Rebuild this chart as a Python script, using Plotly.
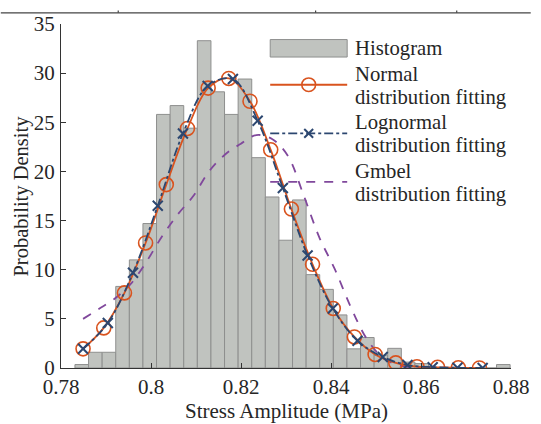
import plotly.graph_objects as go

# ---------------- data ----------------
hist_first_edge = 0.7831
hist_bin_width = 0.003022
hist_heights = [0.35, 1.6, 1.6, 8.3, 11.0, 14.7, 25.8, 26.7, 24.4, 33.3,
                28.1, 25.8, 29.4, 21.4, 17.4, 13.0, 17.1, 9.5, 8.0, 5.4,
                1.95, 3.1, 1.3, 2.0, 0.6, 0.45, 0.0, 0.0, 0.0, 0.0, 0.0, 0.35]

normal_x = [0.7849, 0.7895, 0.7941, 0.7988, 0.8034, 0.8081, 0.8127, 0.8173,
            0.8220, 0.8266, 0.8312, 0.8359, 0.8405, 0.8452, 0.8498, 0.8544,
            0.8591, 0.8637, 0.8683, 0.8730]
normal_y = [1.95, 4.08, 7.64, 12.72, 18.66, 24.37, 28.48, 29.46,
            27.14, 22.2, 16.17, 10.55, 6.06, 3.16, 1.38, 0.52,
            0.13, 0.07, 0.02, 0.005]

lognormal_x = [0.7849, 0.7904, 0.7960, 0.8015, 0.8071, 0.8126, 0.8182, 0.8237,
               0.8293, 0.8348, 0.8404, 0.8459, 0.8515, 0.8570, 0.8626, 0.8681,
               0.8737]
lognormal_y = [1.95, 4.58, 9.69, 16.51, 23.86, 28.69, 29.4, 25.16,
               18.32, 11.45, 6.06, 2.77, 1.12, 0.3, 0.08, 0.02, 0.005]

gumbel_x = [0.7849, 0.7884, 0.7919, 0.7954, 0.7989, 0.8024, 0.8059, 0.8094,
            0.8129, 0.8164, 0.8199, 0.8234, 0.8269, 0.8304, 0.8339, 0.8374,
            0.8409, 0.8444, 0.8479, 0.8514, 0.8549, 0.8584, 0.8619, 0.8654,
            0.8689, 0.8737]
gumbel_y = [5.0, 6.0, 7.05, 8.5, 10.75, 13.35, 15.6, 17.5,
            20.0, 21.7, 22.8, 23.7, 23.3, 21.6, 17.6, 13.3,
            10.0, 6.2, 3.0, 1.1, 0.3, 0.06, 0.01, 0.0,
            0.0, 0.0]

x_tick_vals = [0.78, 0.80, 0.82, 0.84, 0.86, 0.88]
x_tick_text = ["0.78", "0.8", "0.82", "0.84", "0.86", "0.88"]
y_tick_vals = [0, 5, 10, 15, 20, 25, 30, 35]

legend_labels = [["Histogram"],
                 ["Normal", "distribution fitting"],
                 ["Lognormal", "distribution fitting"],
                 ["Gmbel", "distribution fitting"]]
x_title = "Stress Amplitude (MPa)"
y_title = "Probability Density"

# ---------------- style ----------------
FONT = "Liberation Serif, Times New Roman, serif"
BAR_FILL = "#c0c3bf"
BAR_EDGE = "#8e8f8e"
C_NORMAL = "#d9531e"
C_LOGN = "#2c4770"
C_GUMB = "#80489c"
TXT = "#262626"

W, H = 541, 424
ML, MR, MT, MB = 61, 24, 14, 56
PW, PH = W - ML - MR, H - MT - MB


def px(xp):
    return (xp - ML) / PW


def py(yp):
    return (H - MB - yp) / PH


centers = [hist_first_edge + (i + 0.5) * hist_bin_width for i in range(len(hist_heights))]

fig = go.Figure()
fig.add_trace(go.Bar(x=centers, y=hist_heights, width=hist_bin_width,
                     marker=dict(color=BAR_FILL, line=dict(color=BAR_EDGE, width=1)),
                     showlegend=False))
fig.add_trace(go.Scatter(x=gumbel_x, y=gumbel_y, mode="lines",
                         line=dict(color=C_GUMB, width=1.8, dash="dash", shape="spline"),
                         showlegend=False))
fig.add_trace(go.Scatter(x=normal_x, y=normal_y, mode="lines+markers",
                         line=dict(color=C_NORMAL, width=1.8, shape="spline"),
                         marker=dict(symbol="circle-open", size=14, color=C_NORMAL,
                                     line=dict(width=1.6, color=C_NORMAL)),
                         showlegend=False))
fig.add_trace(go.Scatter(x=lognormal_x, y=lognormal_y, mode="lines+markers",
                         line=dict(color=C_LOGN, width=1.8, dash="dashdot", shape="spline"),
                         marker=dict(symbol="x-thin-open", size=10, color=C_LOGN,
                                     line=dict(width=2, color=C_LOGN)),
                         showlegend=False))

shapes = []
annotations = []

# legend, drawn manually (pixel positions converted to paper space)
sx0, sx1, smid = 273, 351, 312
shapes.append(dict(type="rect", xref="paper", yref="paper",
                   x0=px(sx0), x1=px(sx1), y0=py(48), y1=py(30),
                   fillcolor=BAR_FILL, line=dict(color=BAR_EDGE, width=1)))
shapes.append(dict(type="line", xref="paper", yref="paper",
                   x0=px(sx0), x1=px(sx1), y0=py(76.5), y1=py(76.5),
                   line=dict(color=C_NORMAL, width=1.8)))
shapes.append(dict(type="circle", xref="paper", yref="paper",
                   x0=px(smid - 7), x1=px(smid + 7), y0=py(76.5 + 7), y1=py(76.5 - 7),
                   line=dict(color=C_NORMAL, width=1.6)))
shapes.append(dict(type="line", xref="paper", yref="paper",
                   x0=px(sx0), x1=px(sx1), y0=py(126.5), y1=py(126.5),
                   line=dict(color=C_LOGN, width=1.8, dash="dashdot")))
for d in (-1, 1):
    shapes.append(dict(type="line", xref="paper", yref="paper",
                       x0=px(smid - 4.5), x1=px(smid + 4.5),
                       y0=py(126.5 - 4.5 * d), y1=py(126.5 + 4.5 * d),
                       line=dict(color=C_LOGN, width=2)))
shapes.append(dict(type="line", xref="paper", yref="paper",
                   x0=px(sx0), x1=px(sx1), y0=py(176.5), y1=py(176.5),
                   line=dict(color=C_GUMB, width=1.8, dash="dash")))

text_rows = [39.5, 65, 89.5, 115, 139.5, 165, 189.5]
row = 0
for entry in legend_labels:
    for line in entry:
        annotations.append(dict(text=line, xref="paper", yref="paper",
                                x=px(357), y=py(text_rows[row]), xanchor="left",
                                yanchor="middle", showarrow=False,
                                font=dict(family=FONT, size=20.7, color=TXT)))
        row += 1

# axis titles
annotations.append(dict(text=x_title, xref="paper", yref="paper", x=0.5, y=py(412.5),
                        xanchor="center", yanchor="middle", showarrow=False,
                        font=dict(family=FONT, size=21, color=TXT)))
annotations.append(dict(text=y_title, xref="paper", yref="paper", x=px(20), y=0.5,
                        xanchor="center", yanchor="middle", showarrow=False, textangle=-90,
                        font=dict(family=FONT, size=20.5, color=TXT)))

# cropped border at the very top of the picture
shapes.append(dict(type="line", xref="paper", yref="paper", x0=px(0), x1=px(537),
                   y0=py(2.5), y1=py(2.5), line=dict(color="#444", width=1.2)))
for tx in (119, 319, 462):
    shapes.append(dict(type="line", xref="paper", yref="paper", x0=px(tx), x1=px(tx),
                       y0=py(0), y1=py(2.5), line=dict(color="#444", width=1.2)))

fig.update_layout(
    width=W, height=H,
    margin=dict(l=ML, r=MR, t=MT, b=MB, pad=0),
    paper_bgcolor="white", plot_bgcolor="white",
    bargap=0, showlegend=False,
    font=dict(family=FONT, size=20, color=TXT),
    shapes=shapes, annotations=annotations,
)
fig.update_xaxes(range=[0.78, 0.88], tickvals=x_tick_vals, ticktext=x_tick_text,
                 ticks="inside", ticklen=5, tickcolor="#333", showline=True,
                 linecolor="#333", linewidth=1, showgrid=False, zeroline=False,
                 ticklabelstandoff=0,
                 tickfont=dict(family=FONT, size=21, color=TXT))
fig.update_yaxes(range=[0, 35], tickvals=y_tick_vals,
                 ticks="inside", ticklen=5, tickcolor="#333", showline=True,
                 linecolor="#333", linewidth=1, showgrid=False, zeroline=False,
                 ticklabelstandoff=1,
                 tickfont=dict(family=FONT, size=21, color=TXT))

fig.write_html("out.html", config={"displayModeBar": False, "staticPlot": True},
               post_script="document.body.style.margin='0';document.body.style.overflow='hidden';")
